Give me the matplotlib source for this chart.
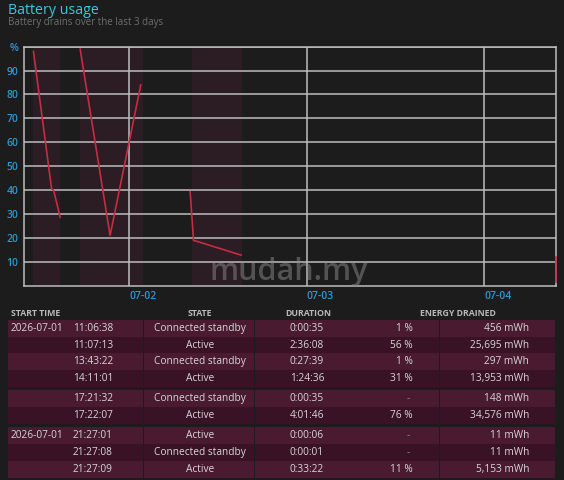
import datetime
import numpy as np
import matplotlib
matplotlib.use("Agg")
import matplotlib.pyplot as plt
import matplotlib.dates as mdates
from matplotlib.patches import Rectangle

plt.rcParams['font.family'] = ['Open Sans', 'DejaVu Sans']

# *
# Data
# *
def ts(s):
    return datetime.datetime.strptime(s, "%Y-%m-%d %H:%M")

# battery level segments (time, %)
seg1_times = ["2026-07-01 11:01", "2026-07-01 13:28", "2026-07-01 13:44", "2026-07-01 14:38"]
seg1_pct   = [98, 40.5, 40, 28.6]
seg2_times = ["2026-07-01 17:20", "2026-07-01 21:23", "2026-07-02 01:32"]
seg2_pct   = [99, 21, 84]
seg3_times = ["2026-07-02 08:13", "2026-07-02 08:40", "2026-07-02 15:07"]
seg3_pct   = [39.3, 19, 12.8]
seg4_times = ["2026-07-04 09:42", "2026-07-04 09:42"]
seg4_pct   = [12, 1.5]

# shaded drain periods
band_starts = ["2026-07-01 11:01", "2026-07-01 17:20", "2026-07-02 08:26"]
band_ends   = ["2026-07-01 14:38", "2026-07-02 01:51", "2026-07-02 15:13"]

x_start = "2026-07-01 09:44"
x_end   = "2026-07-04 09:43"
day_ticks  = ["2026-07-02 00:00", "2026-07-03 00:00", "2026-07-04 00:00"]
day_labels = ["07-02", "07-03", "07-04"]
y_ticks  = [10, 20, 30, 40, 50, 60, 70, 80, 90, 100]
y_labels = ["10", "20", "30", "40", "50", "60", "70", "80", "90", "%"]

# table
col_headers = ["START TIME", "STATE", "DURATION", "ENERGY DRAINED"]
start_dates = ["2026-07-01", "", "", "", "", "", "2026-07-01", "", ""]
start_times = ["11:06:38", "11:07:13", "13:43:22", "14:11:01", "17:21:32", "17:22:07",
               "21:27:01", "21:27:08", "21:27:09"]
states      = ["Connected standby", "Active", "Connected standby", "Active", "Connected standby",
               "Active", "Active", "Connected standby", "Active"]
durations   = ["0:00:35", "2:36:08", "0:27:39", "1:24:36", "0:00:35", "4:01:46",
               "0:00:06", "0:00:01", "0:33:22"]
drain_pct   = ["1 %", "56 %", "1 %", "31 %", "-", "76 %", "-", "-", "11 %"]
drain_mwh   = ["456 mWh", "25,695 mWh", "297 mWh", "13,953 mWh", "148 mWh", "34,576 mWh",
               "11 mWh", "11 mWh", "5,153 mWh"]
row_group   = [0, 0, 0, 0, 1, 1, 2, 2, 2]

# *
# Colours
# *
bg       = "#1c1c1c"
band_col = "#2b1d23"
grid_col = "#bdbdbd"
line_col = "#c62c44"
tick_col = "#2a98d2"
row_light = "#4a1a30"
row_dark  = "#3a1226"
txt_col   = "#d6d6d6"

fig = plt.figure(figsize=(5.64, 4.8), dpi=100, facecolor=bg)

# *
# Chart
# *
ax = fig.add_axes([24/564, 1 - 285.7/480, 532/564, 239/480], facecolor=bg)

for s, e in zip(band_starts, band_ends):
    ax.axvspan(ts(s), ts(e), color=band_col, lw=0, zorder=0)

for t, p in [(seg1_times, seg1_pct), (seg2_times, seg2_pct), (seg3_times, seg3_pct), (seg4_times, seg4_pct)]:
    ax.plot([ts(v) for v in t], p, color=line_col, lw=1.2, zorder=3, clip_on=False)

ax.set_xlim(ts(x_start), ts(x_end))
ax.set_ylim(0, 100)
ax.set_yticks(y_ticks)
ax.set_yticklabels(y_labels)
ax.set_xticks([ts(v) for v in day_ticks])
ax.set_xticklabels(day_labels, ha="left")
ax.tick_params(length=0, colors=tick_col, labelsize=7.5, pad=4)
for lab in ax.get_yticklabels() + ax.get_xticklabels():
    lab.set_fontweight("semibold")
ax.grid(True, color=grid_col, lw=1.1, zorder=1)
for sp in ax.spines.values():
    sp.set_color(grid_col)
    sp.set_linewidth(1.1)
    sp.set_zorder(2)

# *
# Overlay in pixel coordinates: titles, watermark, table
# *
ov = fig.add_axes([0, 0, 1, 1], facecolor="none")
ov.set_xlim(0, 564)
ov.set_ylim(480, 0)
ov.axis("off")

ov.text(8, 10, "Battery usage", color="#3cc6da", fontsize=10.3, va="center", ha="left")
ov.text(8, 23, "Battery drains over the last 3 days", color="#6e6e6e", fontsize=7, va="center", ha="left")
ov.text(289, 272, "mudah.my", color="#8a8a8a", alpha=0.5, fontsize=22, fontweight="semibold",
        va="center", ha="center")

# header
hy = 313
hkw = dict(color="#b8b8b8", fontsize=6.3, fontweight="bold", va="center")
ov.text(11, hy, col_headers[0], ha="left", **hkw)
ov.text(200, hy, col_headers[1], ha="center", **hkw)
ov.text(285, hy, col_headers[2], ha="left", **hkw)
ov.text(420, hy, col_headers[3], ha="left", **hkw)

row_h = 16.7
gap = 3.6
cells = [(8, 144), (144, 255), (255, 440), (440, 556)]
for i in range(len(start_times)):
    top = 320 + i * row_h + row_group[i] * gap
    c = row_light if i % 2 == 0 else row_dark
    for x0, x1 in cells:
        ov.add_patch(Rectangle((x0, top), x1 - x0 - 0.8, row_h, facecolor=c, lw=0))
    yc = top + row_h / 2
    fs = 7.3
    ov.text(11, yc, start_dates[i], color=txt_col, fontsize=fs, va="center", ha="left")
    ov.text(73, yc, start_times[i], color=txt_col, fontsize=fs, va="center", ha="left")
    ov.text(200, yc, states[i], color=txt_col, fontsize=fs, va="center", ha="center")
    ov.text(290, yc, durations[i], color=txt_col, fontsize=fs, va="center", ha="left")
    pc = "#8a8a8a" if drain_pct[i] == "-" else txt_col
    ov.text(413 if drain_pct[i] != "-" else 410, yc, drain_pct[i], color=pc, fontsize=fs,
            va="center", ha="right")
    ov.text(529, yc, drain_mwh[i], color=txt_col, fontsize=fs, va="center", ha="right")

fig.savefig("out.png", dpi=100, facecolor=bg)
